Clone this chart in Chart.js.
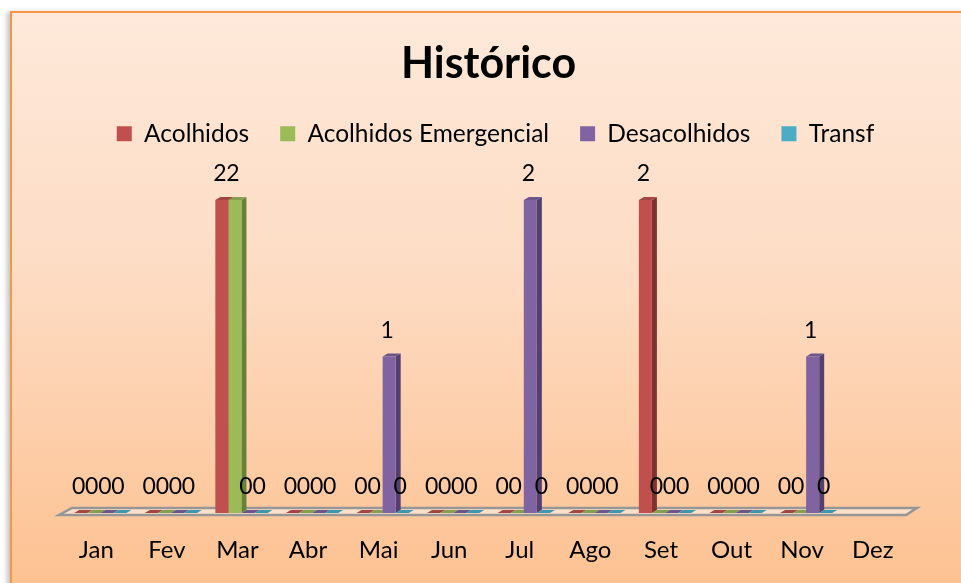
<!DOCTYPE html>
<html lang="pt">
<head>
	<meta charset="UTF-8">
	<title>Histórico</title>
	<script src="https://cdn.jsdelivr.net/npm/chart.js@4"></script>
	<style>
		html, body { margin: 0; padding: 0; background: #fff; overflow: hidden; }
		#quadro {
			position: absolute; left: 10px; top: 11px; width: 1000px; height: 640px;
			border: 2px solid #f79646; box-sizing: border-box;
			background: linear-gradient(to bottom, #fee9da 0%, #fddcc4 40%, #fdbc87 100%);
			box-shadow: -3px 1px 5px rgba(120,120,120,.45);
		}
		#grafico { position: absolute; left: 0; top: 0; }
	</style>
</head>
<body>
	<div id="quadro"></div>
	<canvas id="grafico" width="961" height="583"></canvas>
	<script>
		const meses = ['Jan', 'Fev', 'Mar', 'Abr', 'Mai', 'Jun', 'Jul', 'Ago', 'Set', 'Out', 'Nov', 'Dez'];
		const acolhidos = [0, 0, 2, 0, 0, 0, 0, 0, 2, 0, 0, null];
		const emergencial = [0, 0, 2, 0, 0, 0, 0, 0, 0, 0, 0, null];
		const desacolhidos = [0, 0, 0, 0, 1, 0, 2, 0, 0, 0, 1, null];
		const transf = [0, 0, 0, 0, 0, 0, 0, 0, 0, 0, 0, null];

		const fonte = 'Lato, sans-serif';
		const lados = ['#7f3331', '#67803a', '#53406e', '#31768a'];
		const topos = ['#a34542', '#84a04c', '#6c5589', '#3f97ae'];
		const dx = 5, dy = 3;

		function poligono(ctx, pts, cor) {
			ctx.fillStyle = cor;
			ctx.beginPath();
			pts.forEach((p, i) => i ? ctx.lineTo(p[0], p[1]) : ctx.moveTo(p[0], p[1]));
			ctx.closePath();
			ctx.fill();
		}

		// chao e faces 3D ficam por baixo das barras
		const efeito3d = {
			id: 'efeito3d',
			afterLayout(chart) {
				// a legenda do original fica um pouco a direita do titulo
				chart.legend.left += 7;
				chart.legend.right += 7;
			},
			beforeDatasetsDraw(chart) {
				const ctx = chart.ctx, a = chart.chartArea;
				ctx.save();
				ctx.beginPath();
				ctx.moveTo(a.left - 6, a.bottom + 2);
				ctx.lineTo(a.right - 6, a.bottom + 2);
				ctx.lineTo(a.right + 5, a.bottom - 5);
				ctx.lineTo(a.left + 7, a.bottom - 5);
				ctx.closePath();
				ctx.fillStyle = '#fde0c9';
				ctx.fill();
				ctx.lineWidth = 2.5;
				ctx.strokeStyle = '#969696';
				ctx.stroke();
				chart.data.datasets.forEach((ds, d) => {
					chart.getDatasetMeta(d).data.forEach((bar, i) => {
						if (ds.data[i] === null) return;
						const l = bar.x - bar.width / 2, r = bar.x + bar.width / 2;
						if (bar.base - bar.y > 1) {
							poligono(ctx, [[r, bar.y], [r + dx, bar.y - dy], [r + dx, bar.base - dy], [r, bar.base]], lados[d]);
						}
						poligono(ctx, [[l, bar.y], [r, bar.y], [r + dx, bar.y - dy], [l + dx, bar.y - dy]], topos[d]);
					});
				});
				ctx.restore();
			},
			afterDatasetsDraw(chart) {
				const ctx = chart.ctx;
				ctx.save();
				ctx.font = '23px ' + fonte;
				ctx.fillStyle = '#000';
				ctx.textAlign = 'center';
				ctx.textBaseline = 'middle';
				chart.data.datasets.forEach((ds, d) => {
					chart.getDatasetMeta(d).data.forEach((bar, i) => {
						if (ds.data[i] === null) return;
						ctx.fillText(String(ds.data[i]), bar.x - 2, bar.y - 26);
					});
				});
				ctx.restore();
			}
		};

		new Chart(document.getElementById('grafico'), {
			type: 'bar',
			data: {
				labels: meses,
				datasets: [
					{ label: 'Acolhidos', data: acolhidos, backgroundColor: '#c0504d' },
					{ label: 'Acolhidos Emergencial', data: emergencial, backgroundColor: '#9bbb59' },
					{ label: 'Desacolhidos', data: desacolhidos, backgroundColor: '#8064a2' },
					{ label: 'Transf', data: transf, backgroundColor: '#4bacc6' }
				]
			},
			options: {
				responsive: false,
				animation: false,
				layout: { padding: { left: 65, right: 49, top: 38, bottom: 0 } },
				datasets: { bar: { categoryPercentage: 0.74, barPercentage: 1 } },
				plugins: {
					tooltip: { enabled: false },
					title: {
						display: true,
						text: 'Histórico',
						color: '#000',
						font: { family: fonte, size: 43, weight: 'bold' },
						padding: { top: 0, bottom: 1 }
					},
					legend: {
						position: 'top',
						labels: {
							color: '#000',
							font: { family: fonte, size: 24.5 },
							boxWidth: 15,
							boxHeight: 15,
							padding: 31
						}
					}
				},
				scales: {
					x: {
						grid: { display: false },
						border: { display: false },
						afterFit(scale) { scale.height = 70; },
						ticks: {
							color: '#000',
							font: { family: fonte, size: 24 },
							padding: 15,
							labelOffset: -4,
							maxRotation: 0,
							autoSkip: false
						}
					},
					y: { display: false, min: 0, max: 2.28 }
				}
			},
			plugins: [efeito3d]
		});
	</script>
</body>
</html>
